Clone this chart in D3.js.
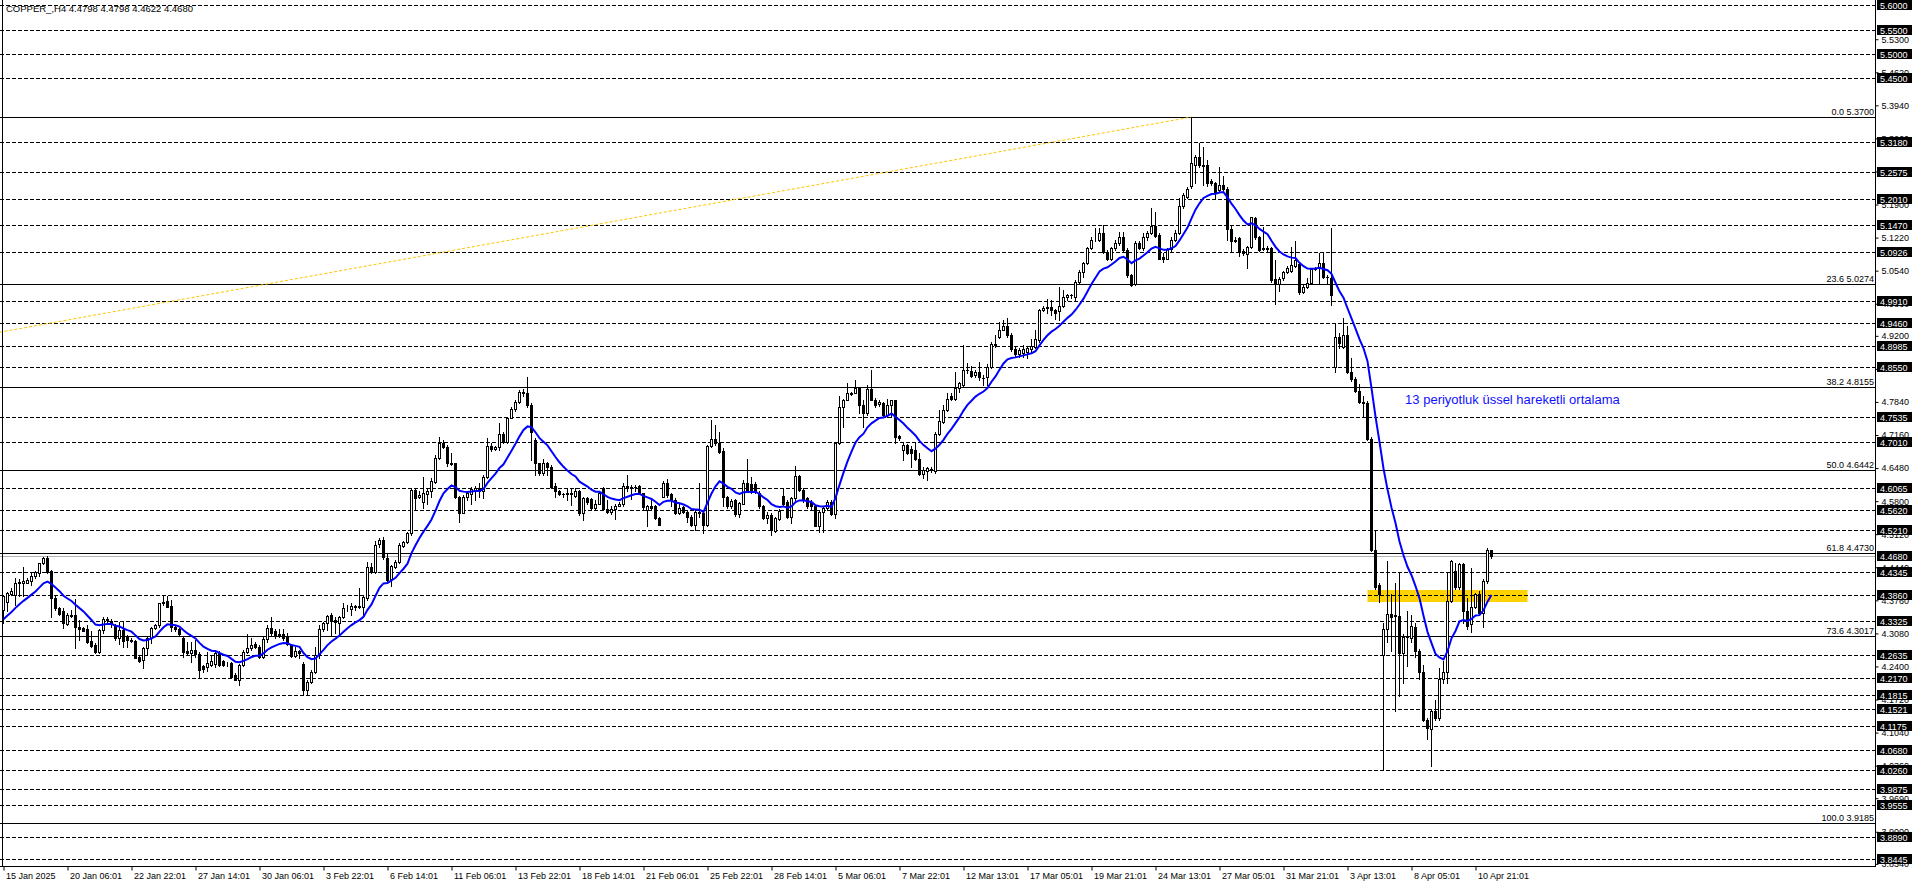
<!DOCTYPE html>
<html><head><meta charset="utf-8">
<script src="https://cdn.jsdelivr.net/npm/d3@7/dist/d3.min.js"></script>
<style>html,body{margin:0;padding:0;background:#fff;overflow:hidden}</style>
</head><body><svg id="c" width="1916" height="888"></svg>
<script>
// ---------- DATA ----------
const opens=[
4.356,4.373,4.390,4.387,4.411,4.411,4.412,4.416,4.425,4.433,
4.452,4.463,4.436,4.380,4.361,4.353,4.327,4.346,4.346,4.322,
4.320,4.317,4.293,4.284,4.270,4.315,4.337,4.334,4.325,4.298,
4.315,4.301,4.295,4.292,4.260,4.253,4.277,4.298,4.319,4.325,
4.371,4.375,4.364,4.322,4.318,4.299,4.272,4.267,4.274,4.266,
4.240,4.238,4.243,4.244,4.268,4.252,4.244,4.248,4.222,4.212,
4.243,4.270,4.277,4.286,4.281,4.260,4.296,4.320,4.312,4.305,
4.307,4.300,4.284,4.261,4.272,4.246,4.192,4.207,4.229,4.264,
4.316,4.329,4.346,4.336,4.329,4.341,4.360,4.358,4.364,4.363,
4.363,4.380,4.444,4.434,4.491,4.500,4.464,4.419,4.445,4.455,
4.488,4.495,4.514,4.603,4.588,4.579,4.595,4.600,4.620,4.668,
4.700,4.691,4.659,4.658,4.588,4.556,4.588,4.595,4.602,4.608,
4.600,4.629,4.693,4.687,4.691,4.718,4.702,4.752,4.769,4.783,
4.802,4.803,4.778,4.706,4.658,4.637,4.658,4.651,4.611,4.601,
4.595,4.594,4.596,4.591,4.601,4.556,4.586,4.584,4.566,4.575,
4.607,4.564,4.557,4.564,4.570,4.574,4.611,4.606,4.610,4.611,
4.596,4.562,4.570,4.570,4.545,4.589,4.618,4.594,4.582,4.555,
4.567,4.558,4.548,4.531,4.555,4.555,4.530,4.693,4.707,4.700,
4.684,4.588,4.569,4.582,4.554,4.575,4.618,4.615,4.615,4.596,
4.569,4.545,4.551,4.519,4.543,4.591,4.579,4.548,4.586,4.632,
4.603,4.586,4.579,4.569,4.528,4.557,4.565,4.579,4.554,4.699,
4.774,4.789,4.801,4.803,4.812,4.778,4.761,4.811,4.789,4.780,
4.782,4.757,4.778,4.788,4.714,4.686,4.695,4.688,4.685,4.666,
4.636,4.643,4.645,4.641,4.719,4.743,4.767,4.796,4.791,4.812,
4.819,4.850,4.848,4.839,4.846,4.834,4.836,4.855,4.904,4.918,
4.933,4.940,4.922,4.892,4.883,4.885,4.887,4.892,4.898,4.911,
4.973,4.978,4.980,4.973,4.972,4.981,5.000,5.004,5.000,5.031,
5.052,5.069,5.100,5.117,5.117,5.131,5.093,5.077,5.100,5.110,
5.124,5.096,5.045,5.027,5.110,5.100,5.123,5.131,5.146,5.127,
5.083,5.079,5.098,5.117,5.131,5.186,5.206,5.228,5.271,5.287,
5.271,5.271,5.239,5.234,5.219,5.230,5.223,5.139,5.118,5.122,
5.095,5.088,5.102,5.162,5.123,5.098,5.100,5.100,5.036,5.027,
5.038,5.052,5.054,5.064,5.068,5.011,5.021,5.028,5.057,5.059,
5.070,5.042,5.038,4.855,4.918,4.898,4.921,4.846,4.832,4.807,
4.784,4.782,4.708,4.480,4.407,4.264,4.318,4.347,4.343,4.343,
4.268,4.300,4.299,4.322,4.272,4.228,4.129,4.112,4.148,4.133,
4.215,4.229,4.374,4.436,4.403,4.451,4.353,4.328,4.362,4.388,
4.349,4.415,4.4798];
const highs=[
4.387,4.394,4.401,4.421,4.419,4.444,4.421,4.435,4.436,4.452,
4.466,4.467,4.438,4.387,4.363,4.360,4.349,4.356,4.378,4.336,
4.322,4.325,4.312,4.288,4.316,4.342,4.341,4.337,4.327,4.332,
4.332,4.305,4.298,4.294,4.261,4.281,4.301,4.322,4.327,4.371,
4.385,4.384,4.377,4.325,4.320,4.301,4.291,4.291,4.294,4.270,
4.243,4.270,4.264,4.270,4.271,4.253,4.250,4.250,4.226,4.246,
4.274,4.306,4.298,4.291,4.284,4.301,4.325,4.341,4.316,4.316,
4.316,4.308,4.287,4.281,4.274,4.250,4.212,4.233,4.281,4.325,
4.332,4.346,4.349,4.342,4.344,4.370,4.366,4.370,4.366,4.402,
4.387,4.455,4.452,4.497,4.504,4.507,4.473,4.449,4.459,4.493,
4.497,4.517,4.606,4.606,4.600,4.630,4.606,4.627,4.675,4.711,
4.706,4.696,4.678,4.659,4.591,4.593,4.600,4.610,4.611,4.617,
4.634,4.709,4.699,4.693,4.740,4.723,4.754,4.774,4.789,4.809,
4.810,4.835,4.781,4.709,4.659,4.666,4.661,4.654,4.617,4.603,
4.597,4.606,4.606,4.606,4.603,4.589,4.589,4.586,4.582,4.600,
4.610,4.582,4.569,4.574,4.579,4.618,4.634,4.613,4.613,4.613,
4.597,4.572,4.584,4.572,4.548,4.622,4.625,4.597,4.586,4.575,
4.569,4.562,4.551,4.562,4.617,4.558,4.696,4.747,4.737,4.723,
4.689,4.591,4.584,4.584,4.579,4.623,4.666,4.630,4.620,4.600,
4.572,4.558,4.555,4.548,4.563,4.606,4.582,4.589,4.652,4.634,
4.606,4.589,4.582,4.572,4.562,4.569,4.582,4.582,4.702,4.796,
4.791,4.822,4.805,4.830,4.814,4.788,4.819,4.850,4.793,4.789,
4.784,4.791,4.789,4.789,4.716,4.700,4.697,4.693,4.702,4.678,
4.651,4.651,4.650,4.723,4.767,4.778,4.803,4.802,4.846,4.826,
4.901,4.865,4.857,4.850,4.867,4.839,4.863,4.908,4.922,4.949,
4.952,4.956,4.925,4.898,4.894,4.901,4.898,4.913,4.932,4.976,
4.981,4.995,4.994,4.976,5.021,5.014,5.007,5.007,5.035,5.055,
5.072,5.103,5.124,5.141,5.141,5.148,5.096,5.103,5.117,5.134,
5.134,5.100,5.048,5.114,5.114,5.131,5.136,5.182,5.175,5.131,
5.090,5.100,5.124,5.138,5.203,5.213,5.227,5.370,5.292,5.317,
5.308,5.282,5.242,5.237,5.268,5.249,5.227,5.148,5.123,5.124,
5.098,5.105,5.165,5.165,5.125,5.144,5.105,5.103,5.076,5.042,
5.054,5.064,5.103,5.114,5.070,5.024,5.038,5.059,5.062,5.091,
5.091,5.045,5.142,4.946,4.926,4.957,4.940,4.874,4.836,4.820,
4.797,4.786,4.712,4.519,4.411,4.330,4.457,4.388,4.411,4.434,
4.306,4.353,4.345,4.330,4.276,4.243,4.133,4.152,4.171,4.237,
4.252,4.432,4.459,4.452,4.453,4.453,4.380,4.442,4.391,4.395,
4.419,4.484,4.4798];
const lows=[
4.329,4.353,4.387,4.366,4.384,4.385,4.411,4.408,4.421,4.425,
4.451,4.433,4.341,4.356,4.346,4.320,4.325,4.342,4.277,4.294,
4.312,4.288,4.281,4.267,4.267,4.308,4.327,4.322,4.294,4.287,
4.279,4.281,4.291,4.257,4.250,4.236,4.264,4.289,4.318,4.322,
4.366,4.362,4.312,4.312,4.305,4.260,4.264,4.250,4.260,4.219,
4.229,4.231,4.240,4.239,4.240,4.240,4.240,4.218,4.212,4.202,
4.240,4.267,4.274,4.277,4.257,4.257,4.291,4.305,4.298,4.300,
4.294,4.284,4.260,4.260,4.257,4.181,4.181,4.205,4.226,4.257,
4.312,4.315,4.303,4.308,4.305,4.339,4.353,4.346,4.356,4.360,
4.342,4.377,4.432,4.432,4.486,4.462,4.414,4.405,4.442,4.452,
4.486,4.493,4.510,4.562,4.586,4.565,4.575,4.589,4.617,4.666,
4.689,4.652,4.654,4.586,4.538,4.555,4.582,4.574,4.582,4.589,
4.586,4.627,4.684,4.685,4.685,4.699,4.699,4.750,4.766,4.781,
4.796,4.774,4.665,4.634,4.634,4.634,4.634,4.606,4.589,4.593,
4.589,4.582,4.572,4.589,4.551,4.541,4.575,4.562,4.562,4.574,
4.562,4.555,4.554,4.543,4.569,4.569,4.600,4.584,4.600,4.596,
4.562,4.529,4.562,4.543,4.530,4.588,4.589,4.569,4.554,4.553,
4.555,4.538,4.528,4.521,4.548,4.514,4.528,4.692,4.696,4.678,
4.570,4.565,4.565,4.549,4.548,4.574,4.600,4.596,4.596,4.565,
4.543,4.534,4.510,4.517,4.541,4.569,4.545,4.534,4.582,4.600,
4.579,4.565,4.562,4.528,4.517,4.517,4.562,4.551,4.545,4.697,
4.733,4.788,4.798,4.802,4.761,4.733,4.757,4.788,4.774,4.776,
4.754,4.754,4.754,4.699,4.706,4.665,4.677,4.651,4.665,4.634,
4.627,4.623,4.640,4.637,4.716,4.741,4.766,4.788,4.788,4.805,
4.815,4.843,4.836,4.836,4.829,4.819,4.819,4.853,4.898,4.915,
4.931,4.918,4.889,4.878,4.877,4.877,4.874,4.887,4.894,4.908,
4.972,4.966,4.963,4.954,4.952,4.980,4.994,4.998,4.994,5.028,
5.042,5.068,5.098,5.114,5.114,5.090,5.076,5.076,5.096,5.107,
5.093,5.042,5.022,5.024,5.098,5.096,5.118,5.129,5.124,5.077,
5.072,5.077,5.093,5.116,5.129,5.182,5.203,5.225,5.234,5.268,
5.230,5.228,5.230,5.201,5.216,5.219,5.117,5.095,5.112,5.084,
5.086,5.059,5.100,5.120,5.095,5.096,5.093,5.031,4.985,5.013,
5.035,5.050,5.052,5.062,5.007,5.009,5.018,5.027,5.055,5.029,
5.038,5.028,4.983,4.846,4.894,4.894,4.844,4.828,4.805,4.782,
4.755,4.705,4.477,4.399,4.372,4.028,4.291,4.272,4.148,4.179,
4.206,4.241,4.291,4.260,4.215,4.127,4.090,4.036,4.129,4.130,
4.206,4.206,4.372,4.399,4.399,4.330,4.318,4.310,4.361,4.345,
4.322,4.411,4.4622];
const closes=[
4.384,4.392,4.395,4.411,4.414,4.416,4.418,4.427,4.434,4.452,
4.463,4.435,4.380,4.360,4.348,4.329,4.346,4.344,4.322,4.317,
4.313,4.291,4.282,4.270,4.315,4.337,4.335,4.329,4.298,4.315,
4.293,4.294,4.293,4.258,4.251,4.277,4.298,4.320,4.326,4.371,
4.373,4.363,4.322,4.316,4.307,4.270,4.267,4.274,4.266,4.233,
4.234,4.248,4.251,4.268,4.243,4.243,4.246,4.219,4.213,4.243,
4.270,4.277,4.284,4.279,4.260,4.296,4.320,4.308,4.305,4.307,
4.298,4.287,4.261,4.272,4.268,4.192,4.209,4.229,4.264,4.316,
4.329,4.344,4.336,4.332,4.341,4.360,4.361,4.364,4.363,4.364,
4.382,4.444,4.434,4.490,4.500,4.466,4.418,4.447,4.455,4.490,
4.495,4.514,4.603,4.587,4.593,4.596,4.600,4.622,4.668,4.700,
4.692,4.658,4.656,4.588,4.556,4.589,4.596,4.604,4.608,4.600,
4.629,4.693,4.687,4.691,4.718,4.702,4.752,4.769,4.783,4.805,
4.805,4.778,4.723,4.658,4.637,4.658,4.650,4.610,4.600,4.595,
4.594,4.596,4.594,4.601,4.555,4.586,4.579,4.565,4.575,4.597,
4.564,4.557,4.564,4.571,4.575,4.611,4.606,4.610,4.609,4.597,
4.567,4.569,4.565,4.545,4.531,4.618,4.593,4.582,4.555,4.566,
4.558,4.548,4.530,4.558,4.558,4.530,4.693,4.707,4.700,4.682,
4.588,4.569,4.581,4.553,4.577,4.618,4.602,4.600,4.600,4.569,
4.545,4.551,4.521,4.545,4.560,4.575,4.548,4.586,4.632,4.603,
4.582,4.569,4.570,4.529,4.558,4.565,4.579,4.554,4.699,4.774,
4.789,4.802,4.803,4.812,4.778,4.761,4.811,4.789,4.778,4.784,
4.757,4.778,4.788,4.712,4.709,4.695,4.678,4.678,4.666,4.636,
4.644,4.649,4.647,4.719,4.745,4.767,4.791,4.791,4.812,4.822,
4.850,4.849,4.837,4.846,4.836,4.833,4.855,4.904,4.902,4.933,
4.940,4.922,4.892,4.883,4.890,4.892,4.894,4.899,4.913,4.973,
4.978,4.979,4.973,4.966,4.981,5.000,5.004,5.003,5.031,5.052,
5.069,5.100,5.117,5.118,5.131,5.093,5.077,5.100,5.110,5.124,
5.096,5.045,5.024,5.110,5.100,5.124,5.132,5.146,5.125,5.079,
5.079,5.098,5.118,5.132,5.186,5.210,5.221,5.275,5.287,5.271,
5.270,5.234,5.234,5.216,5.230,5.221,5.139,5.114,5.115,5.093,
5.090,5.102,5.164,5.123,5.096,5.100,5.098,5.035,5.027,5.036,
5.051,5.059,5.066,5.076,5.011,5.021,5.029,5.057,5.060,5.070,
5.042,5.040,5.004,4.918,4.905,4.921,4.846,4.832,4.807,4.784,
4.782,4.708,4.480,4.403,4.390,4.318,4.347,4.341,4.345,4.268,
4.300,4.303,4.323,4.272,4.228,4.129,4.113,4.148,4.133,4.215,
4.229,4.374,4.457,4.403,4.451,4.353,4.323,4.362,4.388,4.349,
4.415,4.480,4.4680];

const emaPeriod=13;
const emaStart=4.337;   // EMA value read at the first visible bar

const levelPrices=[5.6000,5.5500,5.5000,5.4500,5.3180,5.2575,5.2010,5.1470,5.0926,4.9910,4.9460,4.8985,4.8550,4.7535,4.7010,4.6065,4.5620,4.5210,4.4345,4.3860,4.3325,4.2635,4.2170,4.1815,4.1521,4.1175,4.0680,4.0260,3.9875,3.9555,3.8890,3.8445];
const bidPrice=4.4680;
const fibNames=["0.0","23.6","38.2","50.0","61.8","73.6","100.0"];
const fibPrices=[5.3700,5.0274,4.8155,4.6442,4.4730,4.3017,3.9185];
const axisTickLabels=["5.5300","5.4620","5.3940","5.3260","5.2580","5.1900","5.1220","5.0540","4.9860","4.9200","4.8520","4.7840","4.7160","4.6480","4.5800","4.5120","4.4440","4.3760","4.3080","4.2400","4.1720","4.1040","4.0360","3.9690","3.9000","3.8340"];
const timeLabels=["15 Jan 2025","20 Jan 06:01","22 Jan 22:01","27 Jan 14:01","30 Jan 06:01","3 Feb 22:01","6 Feb 14:01","11 Feb 06:01","13 Feb 22:01","18 Feb 14:01","21 Feb 06:01","25 Feb 22:01","28 Feb 14:01","5 Mar 06:01","7 Mar 22:01","12 Mar 13:01","17 Mar 05:01","19 Mar 21:01","24 Mar 13:01","27 Mar 05:01","31 Mar 21:01","3 Apr 13:01","8 Apr 05:01","10 Apr 21:01"];
const timeLabelBars=[0,16,32,48,64,80,96,112,128,144,160,176,192,208,224,240,256,272,288,304,320,336,352,368];
const zoneBars=[341,381];
const zonePrices=[4.397,4.372];
const trendBars=[-680,297];
const trendPrices=[3.9185,5.3700];
const titleText="COPPER_,H4  4.4798 4.4798 4.4622 4.4680";
const noteText="13 periyotluk üssel hareketli ortalama";
const noteAnchor={bar:350.4, price:4.7798};

// ---------- CHART ----------
const FONT="'Liberation Sans', Arial, sans-serif";
const svg=d3.select("#c");
const plotW=1876, plotH=867;
const x=d3.scaleLinear().domain([0,468]).range([3.5,1875.5]);
const y=d3.scaleLinear().domain([3.8275,5.6107]).range([867,0]);
const ry=p=>Math.round(y(p));
const ly=p=>Math.round(y(p))+0.5;

svg.append("rect").attr("width",1916).attr("height",888).attr("fill","#fff");
svg.append("defs").append("clipPath").attr("id","plotclip").append("rect")
  .attr("x",0).attr("y",0).attr("width",plotW).attr("height",plotH);
const plot=svg.append("g").attr("clip-path","url(#plotclip)");

// zone rectangle
plot.append("rect")
  .attr("x",x(zoneBars[0])).attr("width",x(zoneBars[1])-x(zoneBars[0]))
  .attr("y",ry(zonePrices[0])).attr("height",ry(zonePrices[1])-ry(zonePrices[0]))
  .attr("fill","#FFD200");

// dashed horizontal lines
plot.selectAll("line.lvl").data(levelPrices).enter().append("line").attr("class","lvl")
  .attr("x1",0).attr("x2",plotW).attr("y1",d=>ly(d)).attr("y2",d=>ly(d))
  .attr("stroke","#000").attr("stroke-width",1).attr("stroke-dasharray","4,2")
  .attr("shape-rendering","crispEdges");
// bid line
plot.append("line").attr("x1",0).attr("x2",plotW).attr("y1",ly(bidPrice)).attr("y2",ly(bidPrice))
  .attr("stroke","#b4b4b4").attr("stroke-width",1).attr("shape-rendering","crispEdges");
// fib lines
plot.selectAll("line.fib").data(fibPrices).enter().append("line").attr("class","fib")
  .attr("x1",0).attr("x2",plotW).attr("y1",d=>ly(d)).attr("y2",d=>ly(d))
  .attr("stroke","#000").attr("stroke-width",1).attr("shape-rendering","crispEdges");
// fib trend line
plot.append("line")
  .attr("x1",x(trendBars[0])).attr("y1",y(trendPrices[0]))
  .attr("x2",x(trendBars[1])).attr("y2",y(trendPrices[1]))
  .attr("stroke","#FFC400").attr("stroke-width",1).attr("stroke-dasharray","3,2");

// candles
const n=Math.min(opens.length,highs.length,lows.length,closes.length);
const bars=d3.range(n).map(i=>({i,o:opens[i],h:highs[i],l:lows[i],c:closes[i]}));
const cg=plot.append("g").attr("shape-rendering","crispEdges");
cg.selectAll("line.wick").data(bars).enter().append("line")
  .attr("x1",d=>x(d.i)).attr("x2",d=>x(d.i))
  .attr("y1",d=>ry(Math.max(d.h,d.o,d.c))).attr("y2",d=>ry(Math.min(d.l,d.o,d.c))+1)
  .attr("stroke","#000").attr("stroke-width",1);
cg.selectAll("rect.body").data(bars).enter().append("rect")
  .attr("x",d=>d.c>=d.o? x(d.i)-1 : x(d.i)-1.5)
  .attr("width",d=>d.c>=d.o?2:3)
  .attr("y",d=>d.c>=d.o? ry(d.c)+0.5 : ry(d.o))
  .attr("height",d=>{const a=ry(Math.max(d.o,d.c)),b=ry(Math.min(d.o,d.c));return d.c>=d.o?Math.max(0,b-a):Math.max(1,b-a+1);})
  .attr("fill",d=>d.c>=d.o?"#fff":"#000")
  .attr("stroke",d=>d.c>=d.o?"#000":"none").attr("stroke-width",1);

// EMA 13
const k=2/(emaPeriod+1);
const ema=[];
closes.slice(0,n).forEach((c,i)=>{ema.push(i===0?emaStart:ema[i-1]+k*(c-ema[i-1]));});
plot.append("path").datum(ema)
  .attr("d",d3.line().x((d,i)=>x(i)).y(d=>y(d)))
  .attr("fill","none").attr("stroke","#0000ff").attr("stroke-width",2);

// fib labels
svg.selectAll("text.fibl").data(fibPrices).enter().append("text")
  .attr("x",1874).attr("y",d=>ry(d)-2).attr("text-anchor","end")
  .attr("font-family",FONT).attr("font-size",9).attr("fill","#000")
  .text((d,i)=>fibNames[i]+" "+d.toFixed(4));

// note
svg.append("text").attr("x",x(noteAnchor.bar)).attr("y",y(noteAnchor.price))
  .attr("font-family",FONT).attr("font-size",13).attr("fill","#1010ff").text(noteText);

// frame
const fr=svg.append("g").attr("shape-rendering","crispEdges").attr("stroke","#000");
fr.append("line").attr("x1",1875.5).attr("x2",1875.5).attr("y1",0).attr("y2",867);
fr.append("line").attr("x1",0).attr("x2",1876).attr("y1",866.5).attr("y2",866.5);
fr.append("line").attr("x1",2.5).attr("x2",2.5).attr("y1",0).attr("y2",867);

// right axis
const gy=svg.append("g").attr("transform","translate(1875.5,0)")
  .call(d3.axisRight(y).tickValues(axisTickLabels.map(Number)).tickSize(3).tickPadding(3)
    .tickFormat((d,i)=>axisTickLabels[i]));
gy.select(".domain").remove();
gy.attr("font-family",FONT).attr("font-size",9);
gy.selectAll("text").attr("fill","#000");
gy.selectAll("line").attr("stroke","#000");

// price boxes
const boxes=levelPrices.concat([bidPrice]);
const bg=svg.append("g");
bg.selectAll("rect").data(boxes).enter().append("rect")
  .attr("x",1877).attr("width",35).attr("y",d=>ry(d)-5).attr("height",10).attr("fill","#000");
bg.selectAll("text").data(boxes).enter().append("text")
  .attr("x",1880).attr("y",d=>ry(d)+3.5).attr("font-family",FONT).attr("font-size",9)
  .attr("fill","#fff").text(d=>d.toFixed(4));

// bottom axis
const gx=svg.append("g").attr("transform","translate(0,866.5)")
  .call(d3.axisBottom(x).tickValues(timeLabelBars).tickSize(4).tickPadding(2)
    .tickFormat((d,i)=>timeLabels[i]));
gx.select(".domain").remove();
gx.attr("font-family",FONT).attr("font-size",9);
gx.selectAll("text").attr("fill","#000").attr("text-anchor","start").attr("dx",2);
gx.selectAll("line").attr("stroke","#000");

// title
svg.append("text").attr("x",6).attr("y",11.5).attr("font-family",FONT).attr("font-size",9.5)
  .attr("fill","#000").text(titleText);
</script>
</body></html>
